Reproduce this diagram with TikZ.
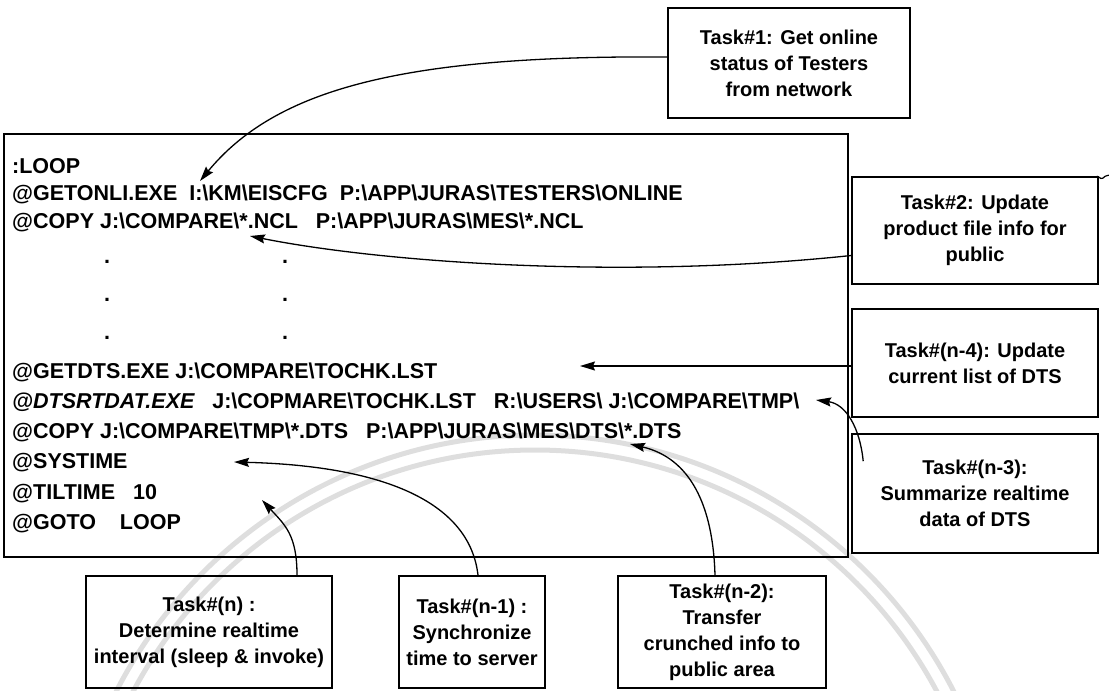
\documentclass[tikz,border=0pt]{standalone}
\usepackage{fontspec}
\setmainfont{Liberation Sans}
\usetikzlibrary{arrows.meta}
\newcommand{\bs}{\textbackslash}
\newcommand{\gap}{\ \ \ }
\begin{document}
\begin{tikzpicture}[x=1pt,y=-1pt,
  font=\bfseries\fontsize{20}{26}\selectfont,
  frame/.style={draw,line width=1.6pt,inner sep=0pt},
  taskbox/.style={frame,align=center},
  code/.style={anchor=west,inner sep=0pt,font=\bfseries\fontsize{21.5}{26}\selectfont},
  dotmark/.style={inner sep=0pt,font=\bfseries\fontsize{21.5}{26}\selectfont},
  link/.style={line width=1.3pt,-{Stealth[length=15pt,width=9pt,inset=2pt]}},
  seal/.style={draw=black!13,line width=5pt},
]
\useasboundingbox (0,0) rectangle (1117,691);

% faint seal in the paper background
\begin{scope}
  \clip (0,0) rectangle (1117,691);
  \draw[seal] (535,905) circle[radius=470];
  \draw[seal] (535,905) circle[radius=455];
\end{scope}

% batch program frame
\node[frame,minimum width=844pt,minimum height=423pt,anchor=north west] (prog) at (3,133) {};

% program listing
\node[code] (l1)  at (12,166) {:LOOP};
\node[code] (l2)  at (12,194) {@GETONLI.EXE\ \ I:\bs KM\bs EISCFG\ \ P:\bs APP\bs JURAS\bs TESTERS\bs ONLINE};
\node[code] (l3)  at (12,222) {@COPY J:\bs COMPARE\bs *.NCL\gap P:\bs APP\bs JURAS\bs MES\bs *.NCL};
\foreach \y/\n in {262/a,300/b,338/c}{
  \node[dotmark] (da\n) at (107,\y) {.};
  \node[dotmark] (db\n) at (285,\y) {.};
}
\node[code] (l4)  at (12,372) {@GETDTS.EXE J:\bs COMPARE\bs TOCHK.LST};
\node[code] (l5)  at (12,402) {{\itshape @DTSRTDAT.EXE}\gap J:\bs COPMARE\bs TOCHK.LST\gap R:\bs USERS\bs\ J:\bs COMPARE\bs TMP\bs};
\node[code] (l6)  at (12,432) {@COPY J:\bs COMPARE\bs TMP\bs *.DTS\gap P:\bs APP\bs JURAS\bs MES\bs DTS\bs *.DTS};
\node[code] (l7)  at (12,463) {@SYSTIME};
\node[code] (l8)  at (12,494) {@TILTIME\gap 10};
\node[code] (l9)  at (12,524) {@GOTO\gap\ LOOP};

% task boxes
\node[taskbox,minimum width=242pt,minimum height=110pt] (t1) at (789,63)
  {Task\#1: Get online\\status of Testers\\from network};
\node[taskbox,minimum width=246pt,minimum height=107pt] (t2) at (975,230.5)
  {Task\#2: Update\\product file info for\\public};
\node[taskbox,minimum width=246pt,minimum height=108pt] (t4) at (975,363)
  {Task\#(n-4): Update\\current list of DTS};
\node[taskbox,minimum width=246pt,minimum height=119pt] (t3) at (975,493.5)
  {Task\#(n-3):\\Summarize realtime\\data of DTS};
\node[taskbox,minimum width=246pt,minimum height=112pt] (tn) at (209,632)
  {Task\#(n) :\\Determine realtime\\interval (sleep \& invoke)};
\node[taskbox,minimum width=146pt,minimum height=112pt] (tn1) at (472,632)
  {Task\#(n-1) :\\Synchronize\\time to server};
\node[taskbox,minimum width=208pt,minimum height=112pt] (tn2) at (722,632)
  {Task\#(n-2):\\Transfer\\crunched info to\\public area};

% arrow tips inside the listing
\coordinate (p1) at (200,181);
\coordinate (p2) at (250,236);
\coordinate (p4) at (580,366);
\coordinate (p3) at (816,400);
\coordinate (p6) at (630,444);
\coordinate (p7) at (234,462);
\coordinate (p8) at (262,500);

% connectors
\draw[link] ([yshift=6pt]t1.west) .. controls (400,55) and (275,90) .. (p1);
\draw[link] ([yshift=-25pt]t2.west) .. controls (620,280) and (380,262) .. (p2);
\draw[link] ([yshift=-3pt]t4.west) -- (p4);
\draw[link] ([xshift=12pt,yshift=-28pt]t3.north west) .. controls (860,428) and (846,404) .. (p3);
\draw[link] ([xshift=-7pt]tn2.north) .. controls (713,505) and (690,458) .. (p6);
\draw[link] ([xshift=6pt]tn1.north) .. controls (470,505) and (390,466) .. (p7);
\draw[link] ([xshift=88pt]tn.north) .. controls (297,535) and (285,525) .. (p8);

% small pen stroke at the corner of Task#2
\draw[line width=1.2pt] ([xshift=-4pt,yshift=-1pt]t2.north east) .. controls +(4,-3) and +(-3,2) .. +(8,1) .. controls +(2,-2) .. +(14,-2);
\end{tikzpicture}
\end{document}
